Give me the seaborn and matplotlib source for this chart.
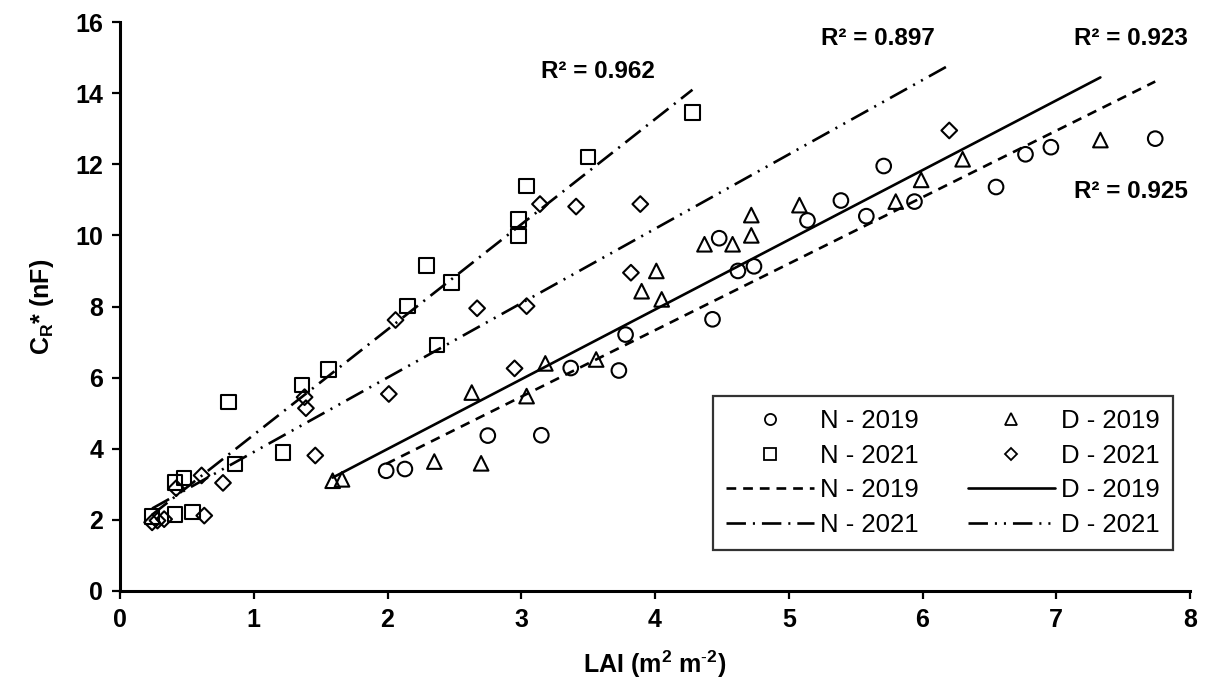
import numpy as np
import pandas as pd
import matplotlib
matplotlib.use("Agg")
import matplotlib.pyplot as plt
import seaborn as sns
from matplotlib.lines import Line2D

# ---------------- data ----------------
n2019_lai = [1.99, 2.13, 2.75, 3.15, 3.37, 3.73, 3.78, 4.43, 4.48, 4.62,
             4.74, 5.14, 5.39, 5.58, 5.71, 5.94, 6.55, 6.77, 6.96, 7.74]
n2019_cr = [3.38, 3.43, 4.37, 4.38, 6.27, 6.20, 7.21, 7.64, 9.92, 9.00,
            9.13, 10.42, 10.98, 10.54, 11.95, 10.95, 11.36, 12.28, 12.48, 12.72]

d2019_lai = [1.59, 1.66, 2.35, 2.70, 2.63, 3.04, 3.18, 3.56, 3.90, 4.01,
             4.05, 4.37, 4.58, 4.72, 4.72, 5.08, 5.80, 5.99, 6.30, 7.33]
d2019_cr = [3.10, 3.14, 3.64, 3.59, 5.58, 5.48, 6.40, 6.51, 8.43, 9.00,
            8.20, 9.75, 9.75, 10.00, 10.57, 10.85, 10.95, 11.56, 12.14, 12.68]

n2021_lai = [0.24, 0.41, 0.54, 0.41, 0.48, 0.81, 0.86, 1.22, 1.36, 1.56,
             2.15, 2.29, 2.37, 2.48, 2.98, 2.98, 3.04, 3.50, 4.28]
n2021_cr = [2.10, 2.15, 2.22, 3.05, 3.18, 5.32, 3.57, 3.89, 5.79, 6.23,
            8.01, 9.15, 6.92, 8.67, 9.98, 10.45, 11.39, 12.20, 13.45]

d2021_lai = [0.24, 0.28, 0.33, 0.63, 0.42, 0.61, 0.77, 1.38, 1.39, 1.46,
             2.01, 2.06, 2.67, 2.95, 3.04, 3.14, 3.41, 3.82, 3.89, 6.20]
d2021_cr = [1.93, 1.98, 2.02, 2.12, 2.89, 3.25, 3.04, 5.45, 5.14, 3.81,
            5.54, 7.62, 7.95, 6.26, 8.01, 10.88, 10.81, 8.95, 10.88, 12.95]

series_names = ["N - 2019", "D - 2019", "N - 2021", "D - 2021"]
r2_labels = ["R² = 0.925", "R² = 0.923", "R² = 0.962", "R² = 0.897"]
r2_pos = [(7.56, 11.22), (7.56, 15.55), (3.57, 14.6), (5.67, 15.55)]
x_ticks = [0, 1, 2, 3, 4, 5, 6, 7, 8]
y_ticks = [0, 2, 4, 6, 8, 10, 12, 14, 16]

# ---------------- style ----------------
sns.set_style("white")
plt.rcParams["font.family"] = ["Liberation Sans", "DejaVu Sans"]
plt.rcParams["mathtext.fontset"] = "custom"
plt.rcParams["mathtext.rm"] = "Liberation Sans"
plt.rcParams["mathtext.bf"] = "Liberation Sans:bold"
plt.rcParams["lines.scale_dashes"] = False
for key in ["text.color", "axes.labelcolor", "xtick.color", "ytick.color"]:
    plt.rcParams[key] = "black"

fig = plt.figure(figsize=(12.09, 6.87), dpi=100)
ax = fig.add_axes([120 / 1209, 1 - 591 / 687, (1190 - 120) / 1209, (591 - 22) / 687])

data = {
    "N - 2019": (n2019_lai, n2019_cr, "o", 10.5, (0, (7, 5))),
    "D - 2019": (d2019_lai, d2019_cr, "^", 10.5, "-"),
    "N - 2021": (n2021_lai, n2021_cr, "s", 10.5, (0, (14, 5, 1.5, 5))),
    "D - 2021": (d2021_lai, d2021_cr, "D", 8.0, (0, (14, 5, 1.5, 5, 1.5, 5))),
}

for name in series_names:
    xs, ys, mk, ms, ls = data[name]
    df = pd.DataFrame({"LAI": xs, "CR": ys})
    sns.regplot(data=df, x="LAI", y="CR", ax=ax, scatter=False, ci=None,
                truncate=True, color="black",
                line_kws=dict(linewidth=1.9, linestyle=ls, zorder=2))
    sns.scatterplot(data=df, x="LAI", y="CR", ax=ax, marker=mk, s=ms ** 2,
                    color="black", facecolor="none", edgecolor="black",
                    linewidth=1.5, zorder=3)

for lab, (px, py) in zip(r2_labels, r2_pos):
    ax.text(px, py, lab, ha="center", va="center", fontsize=17.5,
            fontweight="bold", color="black")

ax.set_xlim(0, 8)
ax.set_ylim(0, 16)
ax.set_xticks(x_ticks)
ax.set_yticks(y_ticks)
ax.set_xticklabels([str(t) for t in x_ticks], fontweight="bold", fontsize=18)
ax.set_yticklabels([str(t) for t in y_ticks], fontweight="bold", fontsize=18)
ax.tick_params(direction="out", length=6, width=1.6, color="black",
               labelcolor="black", left=True, bottom=True, pad=6)
for side in ["top", "right"]:
    ax.spines[side].set_visible(False)
for side in ["left", "bottom"]:
    ax.spines[side].set_linewidth(2.2)
    ax.spines[side].set_color("black")

ax.set_xlabel(r"LAI (m$^\mathbf{2}$ m$^\mathbf{\text{-}2}$)", fontsize=18,
              fontweight="bold", labelpad=12)
ax.set_ylabel(r"$\mathbf{C_R}$* (nF)", fontsize=18, fontweight="bold",
              labelpad=14)

# legend: two columns
h = []
lab = []
col1 = [("N - 2019", "o", None), ("N - 2021", "s", None),
        ("N - 2019", None, data["N - 2019"][4]), ("N - 2021", None, data["N - 2021"][4])]
col2 = [("D - 2019", "^", None), ("D - 2021", "D", None),
        ("D - 2019", None, "-"), ("D - 2021", None, data["D - 2021"][4])]
for name, mk, ls in col1 + col2:
    if mk is not None:
        h.append(Line2D([], [], linestyle="none", marker=mk,
                        markersize=8 if mk != "D" else 6.5,
                        markerfacecolor="none", markeredgecolor="black",
                        markeredgewidth=1.3))
    else:
        h.append(Line2D([], [], color="black", linewidth=1.9, linestyle=ls))
    lab.append(name)

leg = ax.legend(h, lab, ncol=2, loc="lower right",
                bbox_to_anchor=(1173 / 1209, 1 - 550 / 687),
                bbox_transform=fig.transFigure, borderaxespad=0,
                fontsize=18.5, frameon=True, fancybox=False, handlelength=3.4,
                handletextpad=0.25, columnspacing=1.9, labelspacing=0.42,
                borderpad=0.5, edgecolor="black")
leg.get_frame().set_linewidth(1.6)

fig.savefig("out.png", dpi=100)
